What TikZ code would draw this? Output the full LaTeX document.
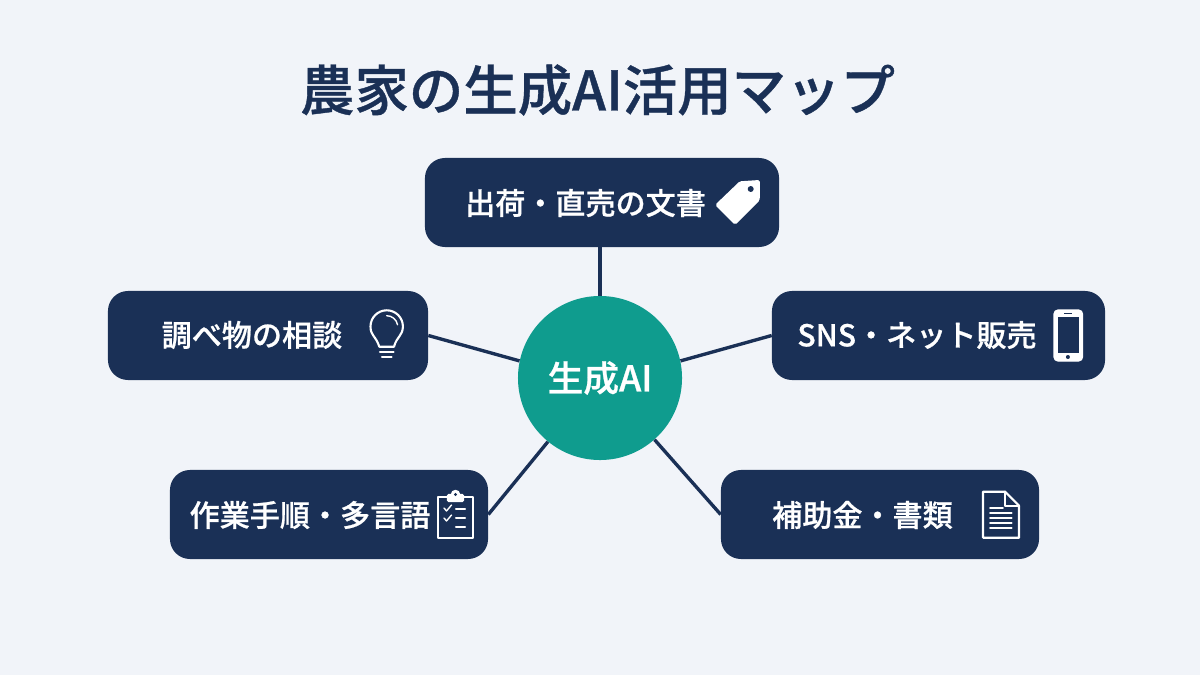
\documentclass[tikz,border=0pt]{standalone}
\usepackage{fontspec}
\usepackage{xcolor}
\setmainfont{Noto Sans CJK JP}[BoldFont={Noto Sans CJK JP Medium}, BoldFeatures={FakeBold=0.7}]
\usetikzlibrary{calc}
\definecolor{navy}{HTML}{1A3056}
\definecolor{teal2}{HTML}{0F9C8E}
\definecolor{paper}{HTML}{F1F4F9}
\tikzstyle{card} = [fill=navy, rounded corners=0.5cm, minimum height=2.225cm, inner sep=0pt]
\tikzstyle{cardtext} = [text=white, font=\bfseries\fontsize{21.4}{25}\selectfont, inner sep=0pt]
\tikzstyle{link} = [draw=navy, line width=2.4pt]
\tikzstyle{icon} = [draw=white, line width=1.5pt, line cap=round, line join=round]
\tikzstyle{iconfill} = [fill=white, draw=white, line width=1pt, line join=round]

\begin{document}
\begin{tikzpicture}[x=0.025cm, y=-0.025cm]
        % background
        \fill[paper] (0,0) rectangle (1200,675);
        \useasboundingbox (0,0) rectangle (1200,675);
        \node[text=navy, font=\bfseries\fontsize{38.7}{44}\selectfont, inner sep=0pt] (title) at (597.5,90) {農家の生成AI活用マップ};
        % boxes
        \node[card, minimum width=8.85cm] (ship) at (602,202.5) {};
        \node[card, minimum width=8cm] (search) at (268,335.5) {};
        \node[card, minimum width=8.325cm] (sns) at (938.5,335.5) {};
        \node[card, minimum width=7.95cm] (steps) at (329,514.5) {};
        \node[card, minimum width=7.95cm] (grant) at (880,514.5) {};
        \node[circle, fill=teal2, minimum size=4.1cm, inner sep=0pt] (hub) at (600,378) {};
        \node[text=white, font=\bfseries\fontsize{25.4}{28}\selectfont, inner sep=0pt] (hubtext) at (600,378) {生成AI};
        % connectors
        \draw[link] (hub) -- (ship.south -| hub);
        \draw[link] (hub.168) -- (search.east);
        \draw[link] (hub.12) -- (sns.west);
        \draw[link] (hub) -- (steps.east);
        \draw[link] (hub) -- (grant.west);
        % labels
        \node[cardtext] (shiptext) at (585.5,203) {出荷・直売の文書};
        \node[cardtext] (searchtext) at (252,335) {調べ物の相談};
        \node[cardtext] (snstext) at (917,335) {SNS・ネット販売};
        \node[cardtext] (stepstext) at (310,515) {作業手順・多言語};
        \node[cardtext] (granttext) at (862.5,515) {補助金・書類};
        % tag
        \draw[iconfill, rounded corners=1pt] (716,205) -- (740,182) -- (759.3,180.7) -- (759,200) -- (735,224) -- cycle;
        \fill[navy] (750.7,189) circle (0.075cm);
        % bulb
        \draw[icon] (379.3,346.7) .. controls (376,336) and (370.5,336) .. (370.5,326.5)
          arc[start angle=180, end angle=0, radius=0.405cm]
          .. controls (402.7,336) and (397,336) .. (394,346.7) -- cycle;
        \draw[icon] (380,352.3) -- (393.5,352.3);
        \draw[icon] (382,356.7) -- (391.5,356.7);
        \draw[icon, line width=1pt] (386.7,315.7) arc[start angle=90, end angle=10, radius=0.275cm];
        % clipboard
        \draw[icon] (446.7,497) -- (438,497) -- (438,538) -- (473,538) -- (473,497) -- (464,497);
        \draw[iconfill, rounded corners=1pt] (447.5,494.5) rectangle (463.5,501.5);
        \draw[iconfill] (455.5,494.5) circle (0.1cm);
        \fill[navy] (455.5,494.5) circle (0.04cm);
        \draw[icon, line width=1pt] (444,508) -- (446.5,511) -- (451.5,505);
        \draw[icon, line width=1pt] (444,518) -- (446.5,521) -- (451.5,515);
        \foreach \y in {509,518,527}
          \draw[icon] (456,\y) -- (465,\y);
        % phone
        \draw[iconfill, rounded corners=3pt] (1054,310) rectangle (1082.5,361);
        \fill[navy] (1057.7,317.3) rectangle (1079.3,353.3);
        \draw[navy, line width=0.9pt] (1064,313.5) -- (1072,313.5);
        \fill[navy] (1067.9,357) circle (0.05cm);
        % document
        \draw[icon] (1005,491.7) -- (983,491.7) -- (983,537.7) -- (1019,537.7) -- (1019,505.7) -- cycle;
        \draw[icon] (1005,491.7) -- (1005,505.7) -- (1019,505.7);
        \draw[icon, line width=1.2pt] (990,507.7) -- (1003,507.7);
        \foreach \y in {513.3,518.3,523.3,528.3}
          \draw[icon, line width=1.2pt] (990,\y) -- (1011.7,\y);
\end{tikzpicture}
\end{document}
